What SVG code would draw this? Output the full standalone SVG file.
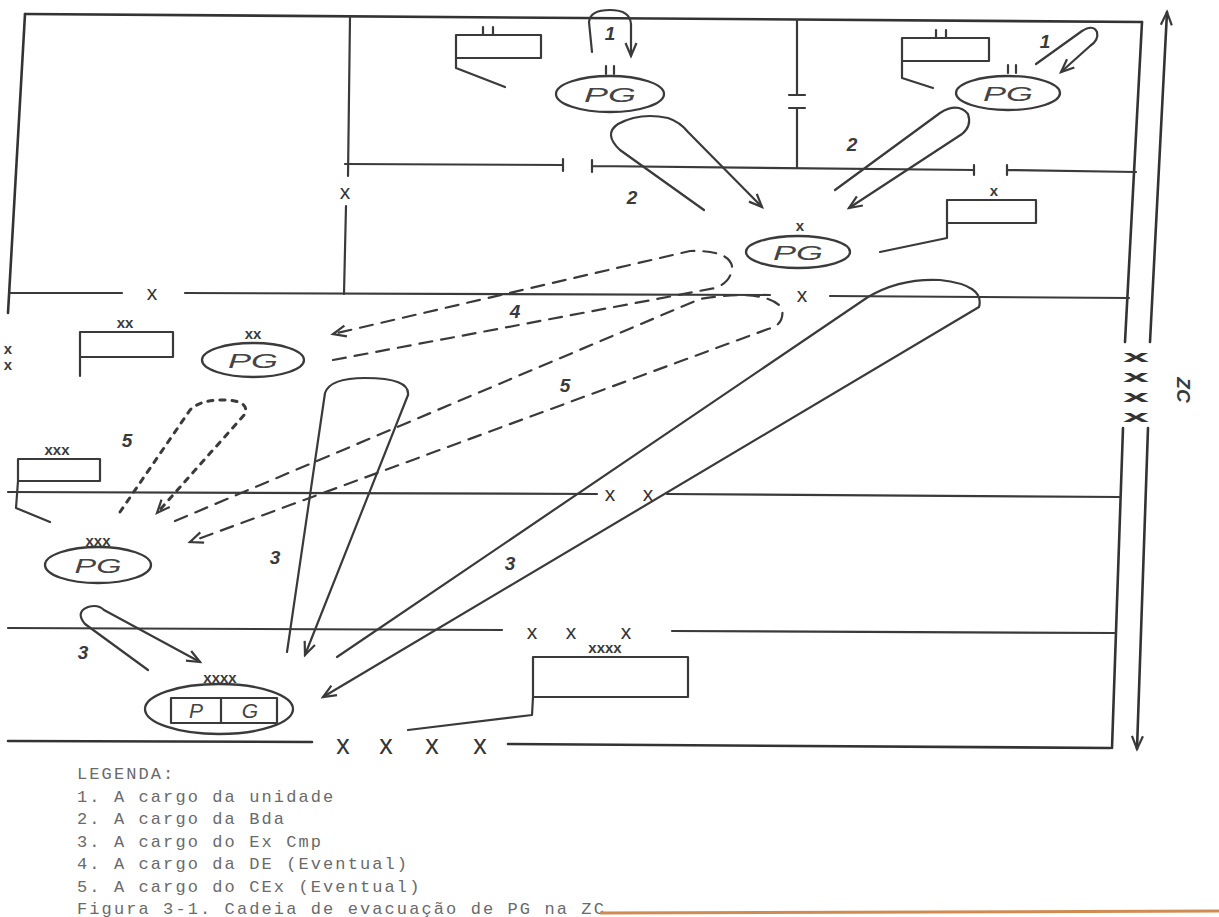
<svg xmlns="http://www.w3.org/2000/svg" width="1219" height="917" viewBox="0 0 1219 917">
<style>
.ln{fill:none;stroke:#3a3a3a;stroke-width:2.2;stroke-linecap:round;stroke-linejoin:round}
.fr{fill:none;stroke:#333;stroke-width:2.6;stroke-linecap:round}
.dash{stroke-dasharray:13 9}
.dot{stroke-dasharray:5 7;stroke-width:3}
.pg{fill:none;stroke:#3a3a3a;stroke-width:2.3}
.pgt{font-family:"Liberation Sans",Arial,sans-serif;font-style:italic;font-size:21px;fill:#444;text-anchor:middle}
.ech{font-family:"Liberation Sans",Arial,sans-serif;font-weight:bold;font-size:15px;fill:#3a3a3a;text-anchor:middle}
.bx{font-family:"Liberation Sans",Arial,sans-serif;font-size:21px;fill:#333;text-anchor:middle}
.zx{font-family:"Liberation Sans",Arial,sans-serif;font-weight:bold;font-size:17px;fill:#333;text-anchor:middle}
.bX{font-family:"Liberation Sans",Arial,sans-serif;font-size:27px;fill:#333;text-anchor:middle}
.num{font-family:"Liberation Sans",Arial,sans-serif;font-style:italic;font-weight:bold;font-size:19px;fill:#3a3a3a;text-anchor:middle}
.lg{font-family:"Liberation Mono","Courier New",monospace;font-size:17px;fill:#6a6a6a;letter-spacing:2.1px}
</style>
<defs>
<marker id="ah" markerWidth="18" markerHeight="14" refX="14" refY="7" orient="auto" markerUnits="userSpaceOnUse"><path d="M1,1.5 L14,7 L1,12.5" fill="none" stroke="#3a3a3a" stroke-width="2.2"/></marker>
</defs>
<rect width="1219" height="917" fill="#fff"/>

<g id="boundaries">
<path class="fr" d="M25,14 L1142,22"/>
<path class="fr" d="M25,14 L8,313"/>
<path class="fr" d="M1142,22 L1125,342 M1123,428 L1112,748"/>
<path class="ln" d="M350,17 L348,176 M346,206 L344,294"/>
<text class="bx" x="345" y="199">x</text>
<path class="ln" d="M345,164 L563,165 M563,159 L563,171 M592,160 L592,172 M592,166 L974,170 M974,165 L974,175 M1007,165 L1007,175 M1007,170 L1136,172"/>
<path class="ln" d="M797,20 L797,95 M789,95 L805,95 M789,108 L805,108 M797,108 L797,168"/>
<path class="ln" d="M10,293 L122,293 M185,293 L770,295 M830,296 L1129,298"/>
<text class="bx" x="152" y="300">x</text>
<text class="bx" x="802" y="302">x</text>
<path class="ln" d="M8,492 L597,494 M667,494 L1120,497"/>
<text class="bx" x="610" y="501">x</text>
<text class="bx" x="648" y="501">x</text>
<path class="ln" d="M8,628 L502,630 M672,631 L1116,633"/>
<text class="bx" x="532" y="639">x</text>
<text class="bx" x="571" y="639">x</text>
<text class="bx" x="626" y="639">x</text>
<path class="fr" d="M8,741 L312,742 M508,744 L1110,748"/>
<text class="bX" x="343" y="754">x</text>
<text class="bX" x="386" y="754">x</text>
<text class="bX" x="432" y="754">x</text>
<text class="bX" x="480" y="754">x</text>
<text class="ech" x="8" y="354" font-size="10">x</text>
<text class="ech" x="8" y="370" font-size="10">x</text>
</g>

<g id="zc">
<path class="fr" d="M1150,342 L1167,12" marker-end="url(#ah)"/>
<path class="fr" d="M1148,428 L1137,749" marker-end="url(#ah)"/>
<text class="zx" x="1136" y="362" textLength="26" lengthAdjust="spacingAndGlyphs">x</text>
<text class="zx" x="1136" y="382" textLength="26" lengthAdjust="spacingAndGlyphs">x</text>
<text class="zx" x="1136" y="402" textLength="26" lengthAdjust="spacingAndGlyphs">x</text>
<text class="zx" x="1136" y="422" textLength="26" lengthAdjust="spacingAndGlyphs">x</text>
<text class="num" x="1184" y="390" transform="rotate(90 1184 390)" dy="7" font-size="22">ZC</text>
</g>

<g id="pg-unidade-1">
<ellipse class="pg" cx="610" cy="94" rx="54" ry="18"/>
<text class="pgt" x="610" y="102" textLength="52" lengthAdjust="spacingAndGlyphs">PG</text>
<path class="ln" d="M606,66 L606,74 M614,66 L614,74"/>
</g>
<g id="unit-unidade-1">
<rect class="ln" x="456" y="35" width="85" height="23"/>
<path class="ln" d="M483,27 L483,35 M493,27 L493,35 M456,58 L456,68 L505,87"/>
</g>

<g id="pg-unidade-2">
<ellipse class="pg" cx="1008" cy="93" rx="52" ry="17"/>
<text class="pgt" x="1008" y="101" textLength="50" lengthAdjust="spacingAndGlyphs">PG</text>
<path class="ln" d="M1008,65 L1008,73 M1016,65 L1016,73"/>
</g>
<g id="unit-unidade-2">
<rect class="ln" x="902" y="38" width="87" height="23"/>
<path class="ln" d="M936,30 L936,38 M946,30 L946,38 M902,61 L902,78 L933,88"/>
</g>

<g id="pg-bda">
<ellipse class="pg" cx="798" cy="252" rx="52" ry="16"/>
<text class="pgt" x="798" y="260" textLength="50" lengthAdjust="spacingAndGlyphs">PG</text>
<text class="ech" x="800" y="231">x</text>
</g>
<g id="unit-bda">
<rect class="ln" x="947" y="200" width="89" height="23"/>
<text class="ech" x="994" y="196">x</text>
<path class="ln" d="M947,223 L947,238 L880,252"/>
</g>

<g id="pg-de">
<ellipse class="pg" cx="253" cy="360" rx="51" ry="17"/>
<text class="pgt" x="253" y="368" textLength="50" lengthAdjust="spacingAndGlyphs">PG</text>
<text class="ech" x="253" y="339">xx</text>
</g>
<g id="unit-de">
<rect class="ln" x="80" y="332" width="93" height="25"/>
<text class="ech" x="125" y="328">xx</text>
<path class="ln" d="M80,357 L80,376"/>
</g>

<g id="pg-cex">
<ellipse class="pg" cx="98" cy="565" rx="53" ry="18"/>
<text class="pgt" x="98" y="573" textLength="47" lengthAdjust="spacingAndGlyphs">PG</text>
<text class="ech" x="98" y="546">xxx</text>
</g>
<g id="unit-cex">
<rect class="ln" x="18" y="459" width="82" height="22"/>
<text class="ech" x="57" y="455">xxx</text>
<path class="ln" d="M18,481 L16,508 L50,522"/>
</g>

<g id="pg-excmp">
<ellipse class="pg" cx="219" cy="709" rx="74" ry="25"/>
<rect class="ln" x="171" y="698" width="106" height="25"/>
<path class="ln" d="M221,698 L221,723"/>
<text class="pgt" x="196" y="718">P</text>
<text class="pgt" x="250" y="718">G</text>
<text class="ech" x="220" y="683">xxxx</text>
</g>
<g id="unit-excmp">
<rect class="ln" x="533" y="657" width="155" height="40"/>
<text class="ech" x="605" y="653">xxxx</text>
<path class="ln" d="M533,697 L532,715 L408,730"/>
</g>

<g id="connectors">
<path class="ln" d="M592,52 L589,22 Q590,10 610,10 Q630,10 631,24 L631,56" marker-end="url(#ah)"/>
<path class="ln" d="M1036,64 L1082,31 Q1093,24 1097,32 Q1099,40 1090,46 L1061,72" marker-end="url(#ah)"/>
<path class="ln" d="M704,210 L620,150 Q603,134 618,124 Q640,112 668,118 Q680,122 688,132 L762,207" marker-end="url(#ah)"/>
<path class="ln" d="M835,190 L940,113 Q958,102 968,114 Q972,126 962,134 L849,208" marker-end="url(#ah)"/>
<path class="ln" d="M287,652 L325,393 Q330,378 365,378 Q410,378 408,395 L305,655" marker-end="url(#ah)"/>
<path class="ln" d="M337,657 L868,297 Q900,278 940,280 Q985,285 979,307 L323,697" marker-end="url(#ah)"/>
<path class="ln" d="M148,670 L85,624 Q75,612 88,607 Q98,604 104,610 L200,662" marker-end="url(#ah)"/>
<path class="ln dash" d="M333,360 L715,288 Q732,282 732,266 Q728,250 690,251 L333,334" marker-end="url(#ah)"/>
<path class="ln dash" d="M175,521 L700,299 Q765,288 782,308 Q785,325 768,329 L190,542" marker-end="url(#ah)"/>
<path class="ln dot" d="M120,512 L190,410 Q200,400 222,400 Q250,400 245,414 L157,513" marker-end="url(#ah)"/>
<text class="num" x="610" y="40">1</text>
<text class="num" x="1045" y="48">1</text>
<text class="num" x="632" y="204">2</text>
<text class="num" x="852" y="151">2</text>
<text class="num" x="275" y="564">3</text>
<text class="num" x="510" y="570">3</text>
<text class="num" x="83" y="659">3</text>
<text class="num" x="515" y="318">4</text>
<text class="num" x="565" y="392">5</text>
<text class="num" x="127" y="447">5</text>
</g>

<g id="legend">
<text class="lg" x="77" y="779">LEGENDA:</text>
<text class="lg" x="77" y="802">1. A cargo da unidade</text>
<text class="lg" x="77" y="824">2. A cargo da Bda</text>
<text class="lg" x="77" y="847">3. A cargo do Ex Cmp</text>
<text class="lg" x="77" y="869">4. A cargo da DE (Eventual)</text>
<text class="lg" x="77" y="892">5. A cargo do CEx (Eventual)</text>
<text class="lg" x="77" y="914">Figura 3-1. Cadeia de evacuação de PG na ZC</text>
<path d="M600,913 L1219,911" stroke="#cf8b52" stroke-width="3" fill="none"/>
</g>
</svg>
